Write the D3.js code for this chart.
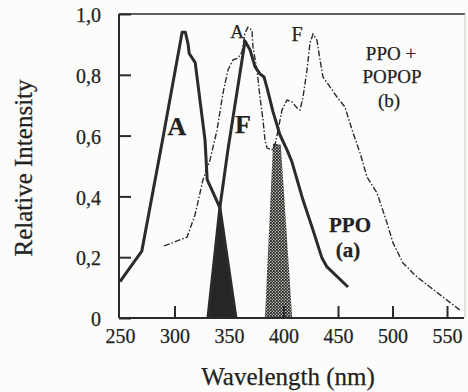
<!DOCTYPE html>
<html>
<head>
<meta charset="utf-8">
<script src="https://cdn.jsdelivr.net/npm/d3@7"></script>
<style>
  html, body { margin: 0; padding: 0; background: #fcfcfa; }
  svg { display: block; }
  text { font-family: "Liberation Serif", "Times New Roman", serif; fill: #222; stroke: #222; stroke-width: 0.25px; }
</style>
</head>
<body>
<div id="chart"></div>
<script>
// PPO (a): absorption A and fluorescence F, [wavelength nm, relative intensity]
const ppoAbsorption = [
  [250, 0.12], [270, 0.22], [289, 0.585], [307, 0.94], [310, 0.94],
  [312.5, 0.90], [313.5, 0.87], [319, 0.84], [328, 0.585], [330, 0.455],
  [341.7, 0.362], [356.4, 0]
];
const ppoFluorescence = [
  [330.7, 0], [341.7, 0.365], [349, 0.553], [364.7, 0.911], [369.3, 0.882],
  [373.9, 0.826], [378.4, 0.803], [382.1, 0.793], [384.9, 0.757], [390.4, 0.678],
  [396.8, 0.602], [403.2, 0.553], [407.8, 0.513], [417.9, 0.388], [427.1, 0.289],
  [435.3, 0.197], [439.9, 0.168], [459.2, 0.102]
];
// PPO + POPOP (b): one dashed trace, absorption then emission
const popopSpectrum = [
  [290.4, 0.237], [311.5, 0.266], [318.8, 0.339], [326.1, 0.454], [332.6, 0.52],
  [339, 0.618], [344.5, 0.74], [349.1, 0.816], [353.7, 0.849], [358.3, 0.855],
  [361.9, 0.875], [364.7, 0.9375], [367.4, 0.957], [371.1, 0.947], [372, 0.891],
  [375.7, 0.816], [378.4, 0.727], [381.2, 0.651], [383, 0.586], [384.9, 0.559],
  [389.4, 0.553], [392.2, 0.569], [395, 0.618], [398.6, 0.684], [403.2, 0.717],
  [407.8, 0.711], [412.4, 0.691], [415.1, 0.684], [417.9, 0.727], [421.6, 0.816],
  [424.3, 0.905], [427.1, 0.934], [430.7, 0.914], [433.5, 0.849], [436.2, 0.793],
  [442.7, 0.76], [449.1, 0.727], [456.4, 0.694], [459.2, 0.661], [463.8, 0.609],
  [470.2, 0.543], [476.6, 0.464], [485.8, 0.411], [495, 0.3125], [500.5, 0.247],
  [509.6, 0.181], [522.5, 0.135], [534.4, 0.102], [546.3, 0.069], [561.9, 0.026]
];
// overlap regions
const ppoOverlap = [[330.7, 0], [341.7, 0.364], [356.4, 0]];
const popopOverlap = [[383, 0], [390.4, 0.575], [397.5, 0.57], [408, 0]];

const xTicks = [250, 300, 350, 400, 450, 500, 550];
const yTicks = [0, 0.2, 0.4, 0.6, 0.8, 1.0];

const width = 468, height = 392;
const svg = d3.select('#chart').append('svg')
  .attr('width', width)
  .attr('height', height);

const x = d3.scaleLinear().domain([250, 550]).range([120, 447]);
const y = d3.scaleLinear().domain([0, 1]).range([318, 14]);
const ink = '#2b2b2b';

const defs = svg.append('defs');
const pat = defs.append('pattern')
  .attr('id', 'checker')
  .attr('width', 3).attr('height', 3)
  .attr('patternUnits', 'userSpaceOnUse');
pat.append('rect').attr('width', 3).attr('height', 3).attr('fill', '#bdbdb8');
pat.append('rect').attr('width', 1.8).attr('height', 1.8).attr('fill', '#262626');
pat.append('rect').attr('x', 1.5).attr('y', 1.5).attr('width', 1.5).attr('height', 1.5).attr('fill', '#262626');

const line = d3.line().x(d => x(d[0])).y(d => y(d[1]));

// shaded overlaps
svg.append('path').datum(ppoOverlap)
  .attr('d', line.curve(d3.curveLinearClosed))
  .attr('fill', '#262626');
svg.append('path').datum(popopOverlap)
  .attr('d', line.curve(d3.curveLinearClosed))
  .attr('fill', 'url(#checker)');
line.curve(d3.curveLinear);

// frame
const frame = svg.append('g').attr('stroke', ink).attr('fill', 'none');
frame.append('line').attr('x1', 119).attr('x2', 119).attr('y1', y(1)).attr('y2', y(0)).attr('stroke-width', 2);
frame.append('line').attr('x1', 119).attr('x2', 465).attr('y1', y(1)).attr('y2', y(1)).attr('stroke-width', 1.6);
frame.append('line').attr('x1', 119).attr('x2', 464).attr('y1', y(0)).attr('y2', y(0)).attr('stroke-width', 2);
frame.append('line').attr('x1', 465).attr('x2', 465).attr('y1', y(1)).attr('y2', y(0))
  .attr('stroke', '#c8c8c4').attr('stroke-width', 1);

// axes
const yAxis = d3.axisLeft(y)
  .tickValues(yTicks)
  .tickSizeInner(-12).tickSizeOuter(0).tickPadding(18)
  .tickFormat(d => d === 0 ? '0' : d.toFixed(1).replace('.', ','));
const gy = svg.append('g').attr('transform', 'translate(119,0)').call(yAxis);
gy.select('.domain').remove();
gy.selectAll('.tick line').attr('stroke', ink).attr('stroke-width', 2);
gy.selectAll('.tick text').attr('font-size', 20)
  .style('font-family', '"Liberation Serif", serif').attr('dy', '0.38em');

const xAxis = d3.axisBottom(x)
  .tickValues(xTicks)
  .tickSizeInner(-12).tickSizeOuter(0).tickPadding(11)
  .tickFormat(d3.format('d'));
const gx = svg.append('g').attr('transform', `translate(0,${y(0)})`).call(xAxis);
gx.select('.domain').remove();
gx.selectAll('.tick line').attr('stroke', ink).attr('stroke-width', 2)
  .filter(d => d === 250).remove();
gx.selectAll('.tick text').attr('font-size', 20)
  .style('font-family', '"Liberation Serif", serif');

// curves
svg.append('path').datum(popopSpectrum)
  .attr('d', line)
  .attr('fill', 'none').attr('stroke', ink)
  .attr('stroke-width', 1.4)
  .attr('stroke-dasharray', '6,2,1.5,2');
[ppoAbsorption, ppoFluorescence].forEach(data => {
  svg.append('path').datum(data)
    .attr('d', line)
    .attr('fill', 'none').attr('stroke', ink)
    .attr('stroke-width', 3)
    .attr('stroke-linejoin', 'round');
});

// titles
svg.append('text')
  .attr('x', 288).attr('y', 385)
  .attr('text-anchor', 'middle').attr('font-size', 25)
  .text('Wavelength (nm)');
svg.append('text')
  .attr('transform', 'translate(32,168) rotate(-90)')
  .attr('text-anchor', 'middle').attr('font-size', 25)
  .text('Relative Intensity');

// annotations
const bold = [
  { t: 'A', x: 177, y: 135, s: 26 },
  { t: 'F', x: 243, y: 133, s: 26 },
  { t: 'PPO', x: 350, y: 232, s: 21 },
  { t: '(a)', x: 348, y: 257, s: 21 }
];
bold.forEach(l => svg.append('text')
  .attr('x', l.x).attr('y', l.y).attr('text-anchor', 'middle')
  .attr('font-size', l.s).attr('font-weight', 'bold').text(l.t));

const plain = [
  { t: 'A', x: 237, y: 38, s: 19 },
  { t: 'F', x: 297, y: 41, s: 20 },
  { t: 'PPO +', x: 391, y: 60, s: 19 },
  { t: 'POPOP', x: 392, y: 83, s: 19 },
  { t: '(b)', x: 389, y: 107, s: 19 }
];
plain.forEach(l => svg.append('text')
  .attr('x', l.x).attr('y', l.y).attr('text-anchor', 'middle')
  .attr('font-size', l.s).text(l.t));
</script>
</body>
</html>
